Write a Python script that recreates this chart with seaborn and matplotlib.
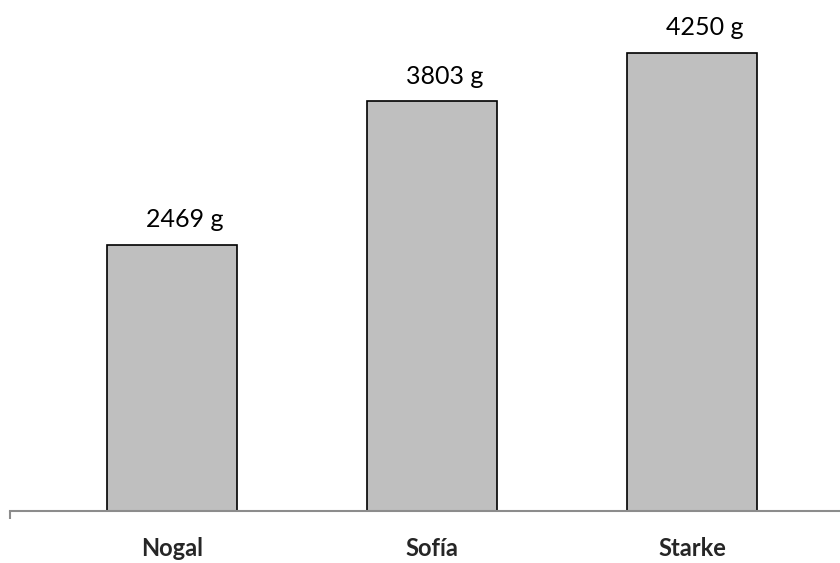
import pandas as pd
import matplotlib
matplotlib.use("Agg")
import matplotlib.pyplot as plt
import seaborn as sns

variedades = ["Nogal", "Sofía", "Starke"]
peso_g = [2469, 3803, 4250]
etiquetas = ["2469 g", "3803 g", "4250 g"]

df = pd.DataFrame({"variedad": variedades, "peso": peso_g})

sns.set_style("white")
plt.rcParams["font.family"] = ["Lato", "DejaVu Sans"]

fig = plt.figure(figsize=(8.4, 5.63), dpi=100)
ax = fig.add_axes([10 / 840, 52 / 563, 830 / 840, 511 / 563])

sns.barplot(data=df, x="variedad", y="peso", color="#bfbfbf", saturation=1,
            edgecolor="black", linewidth=1.2, width=0.5, ax=ax)

x_left = -162 / 260
ax.set_xlim(x_left, 668 / 260)
ax.set_ylim(0, 4740)

for i, (v, t) in enumerate(zip(peso_g, etiquetas)):
    ax.annotate(t, xy=(i + 0.05, v), xytext=(0, 18), textcoords="offset points",
                ha="center", va="center", fontsize=18, color="black")

ax.set_xlabel("")
ax.set_ylabel("")
ax.set_yticks([])
for s in ["top", "right", "left"]:
    ax.spines[s].set_visible(False)
ax.spines["bottom"].set_color("#8c8c8c")
ax.spines["bottom"].set_linewidth(1.5)
ax.tick_params(axis="x", which="major", bottom=False, length=0, pad=19, labelsize=17)
for lbl in ax.get_xticklabels():
    lbl.set_fontweight("bold")
ax.set_xticks([x_left], minor=True)
ax.tick_params(axis="x", which="minor", bottom=True, length=6, width=1.5,
               color="#8c8c8c", direction="out")

fig.savefig("out.png", dpi=100)
